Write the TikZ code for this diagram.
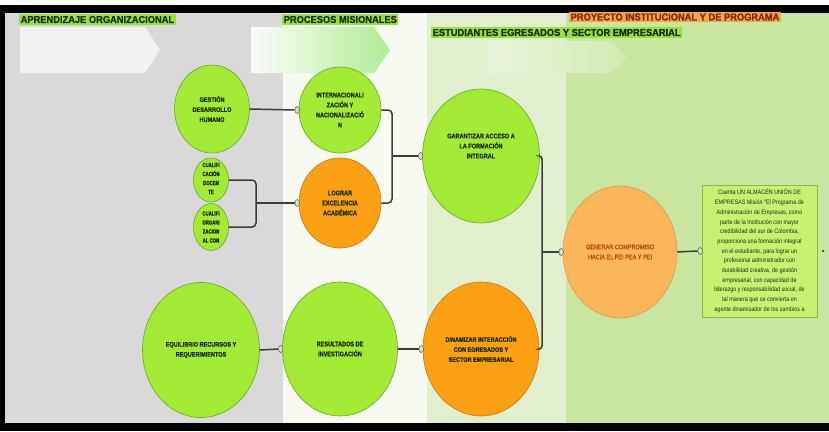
\documentclass[tikz,border=0pt]{standalone}
\usepackage{fontspec}
\setmainfont{Liberation Sans}
\newfontfamily\headfont[FakeStretch=0.93,FakeBold=1.2]{Liberation Sans}
\newfontfamily\circfont[FakeStretch=0.84,FakeBold=1]{Liberation Sans}
\newfontfamily\smallfont[FakeStretch=0.72,FakeBold=1]{Liberation Sans}
\newfontfamily\boxfont[FakeStretch=0.85]{Liberation Sans}
\usetikzlibrary{shapes.geometric}
\definecolor{lime}{RGB}{162,234,52}
\definecolor{limeedge}{RGB}{110,165,40}
\definecolor{orng}{RGB}{250,160,18}
\definecolor{orngedge}{RGB}{200,120,20}
\definecolor{lorng}{RGB}{252,182,92}
\definecolor{panelgray}{RGB}{217,217,217}
\definecolor{panelwhite}{RGB}{246,250,240}
\definecolor{panellgreen}{RGB}{226,239,206}
\definecolor{panelgreen}{RGB}{200,230,160}
\definecolor{hlgreen}{RGB}{150,225,60}
\definecolor{hlorange}{RGB}{245,165,70}
\definecolor{txtdark}{RGB}{30,45,10}
\definecolor{txtbrown}{RGB}{130,40,15}
\definecolor{boxfill}{RGB}{200,240,115}
\definecolor{boxedge}{RGB}{130,190,70}
\definecolor{connc}{RGB}{60,60,60}
\definecolor{mkfill}{RGB}{205,235,190}
\tikzset{
  bigcirc/.style={ellipse, draw=limeedge, line width=0.6pt, fill=lime, inner sep=0pt,
     align=center, text=txtdark, font=\circfont\bfseries\fontsize{6.6}{10}\selectfont},
  orcirc/.style={bigcirc, fill=orng, draw=orngedge},
  smallcirc/.style={ellipse, draw=limeedge, line width=0.6pt, fill=lime, inner sep=0pt,
     minimum width=35pt, minimum height=45pt},
  header/.style={fill=hlgreen, text=txtdark, inner sep=1.5pt, anchor=west,
     font=\headfont\bfseries\fontsize{10}{11}\selectfont},
  conn/.style={draw=connc, line width=1.5pt},
  mk/.style={ellipse, draw=gray!70!black, line width=0.5pt, fill=mkfill,
     minimum width=4.5pt, minimum height=7pt, inner sep=0pt},
}
\begin{document}
\begin{tikzpicture}[x=1pt,y=-1pt]
\useasboundingbox (0,0) rectangle (829,431);
% frame and panels
\fill[white] (0,0) rectangle (829,431);
\fill[black] (0,5) rectangle (829,13);
\fill[black] (0,5) rectangle (5,431);
\fill[black] (0,423) rectangle (829,431);
\fill[panelgray] (5,13) rectangle (283,423);
\fill[panelwhite] (283,13) rectangle (427,423);
\fill[panellgreen] (427,13) rectangle (566,423);
\fill[panelgreen] (566,13) rectangle (829,423);
% background arrows
\fill[white, opacity=0.65] (20,27) -- (145,27) -- (160,50) -- (145,73) -- (20,73) -- cycle;
\shade[left color=white, right color=panelgreen!85!green, opacity=0.9]
   (251,27) -- (374,27) -- (390,50) -- (374,73) -- (251,73) -- cycle;
\shade[left color=panellgreen!70!white, right color=panelgreen!80!white, opacity=0.95]
   (488,41) -- (611,41) -- (627,57) -- (611,73) -- (488,73) -- cycle;
% headers
\node[header] (h1) at (19,19.5) {APRENDIZAJE ORGANIZACIONAL};
\node[header] (h2) at (282,19.5) {PROCESOS MISIONALES};
\node[header, fill=hlorange, text=txtbrown] (h3) at (569,17) {PROYECTO INSTITUCIONAL Y DE PROGRAMA};
\node[header] (h4) at (431,32.5) {ESTUDIANTES EGRESADOS Y SECTOR EMPRESARIAL};
% circles
\node[bigcirc, minimum width=75pt, minimum height=88pt] (gest) at (212,109)
  {GESTIÓN\\DESARROLLO\\HUMANO};
\node[bigcirc, minimum width=82pt, minimum height=86pt] (intern) at (340,110)
  {INTERNACIONALI\\ZACIÓN Y\\NACIONALIZACIÓ\\N};
\node[orcirc, minimum width=82pt, minimum height=90pt] (lograr) at (340,203)
  {LOGRAR\\EXCELENCIA\\ACADÉMICA};
\node[smallcirc, minimum height=44pt, path picture={
   \node[text=txtdark, align=center, font=\smallfont\bfseries\fontsize{6}{9}\selectfont]
     at ([yshift=1.5pt]path picture bounding box.center) {CUALIFI\\CACIÓN\\DOCEN\\TE};}]
  (cdoc) at (211,180) {};
\node[smallcirc, minimum height=47pt, path picture={
   \node[text=txtdark, align=center, font=\smallfont\bfseries\fontsize{6}{9}\selectfont]
     at (path picture bounding box.center) {CUALIFI\\ORGANI\\ZACION\\AL CON};}]
  (corg) at (211,227) {};
\node[bigcirc, minimum width=117pt, minimum height=134pt] (garant) at (481,156)
  {GARANTIZAR ACCESO A\\LA FORMACIÓN\\INTEGRAL\\[10pt]\mbox{}};
\node[bigcirc, fill=lorng, draw=lorng!85!black, text=txtbrown!60!orange,
  font=\circfont\fontsize{6.6}{10}\selectfont,
  minimum width=114pt, minimum height=132pt] (gener) at (620,252)
  {GENERAR COMPROMISO\\HACIA EL PEI PEA Y PEI};
\node[bigcirc, minimum width=117pt, minimum height=135pt] (equil) at (201,350)
  {EQUILIBRIO RECURSOS Y\\REQUERIMIENTOS};
\node[bigcirc, minimum width=115pt, minimum height=134pt] (result) at (340,349)
  {RESULTADOS DE\\INVESTIGACIÓN};
\node[orcirc, minimum width=116pt, minimum height=134pt] (dinam) at (481,349)
  {DINAMIZAR INTERACCIÓN\\CON EGRESADOS Y\\SECTOR EMPRESARIAL};
% text box
\node[draw=boxedge, line width=0.6pt, fill=boxfill, minimum width=115pt, minimum height=132pt,
  inner sep=2pt, align=center, text=txtdark, font=\boxfont\fontsize{6.4}{9.7}\selectfont]
  (mision) at (759.5,251)
  {Cuenta UN ALMACÉN UNIÓN DE\\EMPRESAS Misión "El Programa de\\Administración de Empresas, como\\parte de la Institución con mayor\\credibilidad del sur de Colombia,\\proporciona una formación integral\\en el estudiante, para lograr un\\profesional administrador con\\durabilidad creativa, de gestión\\empresarial, con capacidad de\\liderazgo y responsabilidad social, de\\tal manera que se convierta en\\agente dinamizador de los cambios a};
\node[circle, fill=black!75, inner sep=0pt, minimum size=2.5pt] (dot) at (823,251) {};
% markers
\node[mk, anchor=east] (m1) at ([xshift=1pt]intern.west) {};
\node[mk, anchor=east] (m2) at ([xshift=1pt]lograr.west) {};
\node[mk, anchor=east] (m3) at ([xshift=1pt]garant.west) {};
\node[mk, anchor=east] (m4) at ([xshift=1pt]gener.west) {};
\node[mk, anchor=east] (m5) at ([xshift=1pt]mision.west) {};
\node[mk, anchor=east] (m6) at ([xshift=1pt]result.west) {};
\node[mk, anchor=east] (m7) at ([xshift=1pt]dinam.west) {};
\coordinate (bx1) at (392,156);
\coordinate (bx2) at (256,203);
\coordinate (bx3) at (542,252);
% connectors
\draw[conn] (gest.east) -- (m1.west);
\draw[conn, rounded corners=4pt] (intern.east) -| (bx1) |- (lograr.east);
\draw[conn] (bx1) -- (m3.west);
\draw[conn, rounded corners=4pt] (cdoc.east) -| (bx2) |- (corg.east);
\draw[conn] (bx2) -- (m2.west);
\draw[conn, rounded corners=3pt] (garant.east) -| (bx3) |- (dinam.east);
\draw[conn] (bx3) -- (m4.west);
\draw[conn] (gener.east) -- (m5.west);
\draw[conn] (equil.east) -- (m6.west);
\draw[conn] (result.east) -- (m7.west);
\end{tikzpicture}
\end{document}
